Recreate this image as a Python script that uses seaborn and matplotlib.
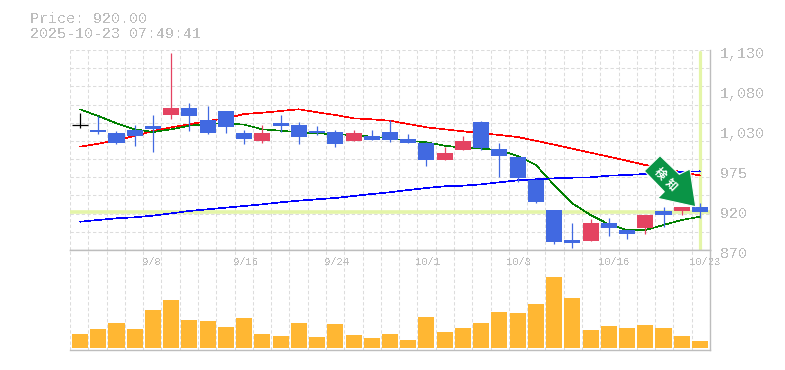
#!/usr/bin/env python3
import numpy as np
import pandas as pd
import matplotlib
matplotlib.use("Agg")
import matplotlib.pyplot as plt
from matplotlib.patches import Polygon
import seaborn as sns

# --- values ---
opens = [1032, 1026.4, 1022, 1026, 1031.2, 1045.5, 1054.6, 1039, 1050.7, 1022, 1011.7, 1035.1,
         1032.5, 1024.7, 1023.4, 1011.7, 1018.2, 1023.4, 1014.3, 1009.1, 987, 1000, 1036.4,
         1001.3, 990.9, 961, 922, 883, 881.7, 905.1, 896, 898.6, 920.7, 920.7, 925.9]
closes = [1032, 1023.4, 1009, 1018.2, 1027.3, 1054.6, 1044.2, 1022, 1030, 1014.3, 1022, 1031.2,
          1016.9, 1021.7, 1007.8, 1022.1, 1013, 1013, 1009.1, 987, 996.1, 1011.7, 1002.6,
          992.2, 963.6, 932.4, 880.4, 879.1, 905.1, 898.6, 890.8, 915.5, 915.5, 925.9, 919.4]
highs = [1048.5, 1044, 1024.7, 1032.5, 1045.5, 1126, 1061, 1057.2, 1050.7, 1026, 1032.5, 1045.5,
         1036.4, 1031.2, 1026, 1026, 1026, 1039, 1020.8, 1010.4, 1003.9, 1018.2, 1037.7,
         1009.1, 990.9, 962.3, 922, 905.1, 910.3, 911.6, 896, 915.5, 925.9, 925.9, 931.1]
lows = [1028.6, 1020.8, 1007.8, 1005.2, 997.4, 1040.3, 1024.7, 1020.8, 1022, 1007.8, 1009, 1023.4,
        1007.8, 1019.5, 1003.9, 1011.7, 1013, 1010.4, 1009.1, 979.2, 987, 1000, 1000,
        964.9, 958.4, 931.1, 877.8, 872.6, 881.7, 888.2, 884.3, 890.8, 899.9, 915.5, 911.6]
ma_short = [1052.9, 1044.2, 1034.7, 1026.9, 1023.4, 1026.9, 1031.6, 1033.8, 1034.7, 1033, 1026.9, 1025.1,
            1023, 1021.7, 1020.4, 1019.5, 1017.3, 1015.2, 1012.1, 1010, 1005.6, 1003, 1001.7,
            1000, 992.2, 980.5, 954.5, 930.7, 915.5, 903.4, 896, 896, 902.5, 909, 913.3]
ma_mid = [1004.3, 1008.2, 1013, 1018.2, 1024.7, 1029.5, 1033.4, 1037.7, 1041.2, 1046.8, 1048.5, 1050.7,
          1052.9, 1049, 1045.5, 1041.2, 1039.9, 1038, 1033.8, 1029.5, 1026.9, 1024.3, 1021.7,
          1019.5, 1016.9, 1012, 1007, 1001.7, 996.5, 991.3, 986, 980.5, 976.6, 971, 967]
ma_long = [906.8, 909, 911.2, 912.5, 914.6, 917.7, 920.7, 922.9, 925, 927.2, 929.4, 932,
           934.1, 935.9, 937.6, 940.2, 942.8, 945, 948, 950.6, 952.8, 953.6, 955.4,
           958, 960.6, 961.9, 963.2, 964, 964.5, 966.6, 967.5, 968.8, 969.7, 971.4, 972.3]
volume = [14, 19, 25, 19, 38, 48, 28, 27, 21, 30, 14, 12, 25, 11, 24, 13, 10, 14,
          8, 31, 16, 20, 25, 36, 35, 44, 71, 50, 18, 22, 20, 23, 20, 12, 7]
date_pos = [4, 9, 14, 19, 24, 29, 34]
date_labels = ["9/8", "9/16", "9/24", "10/1", "10/8", "10/16", "10/23"]
price_pos = [1130, 1078, 1026, 974, 922, 870]
price_labels = ["1,130", "1,080", "1,030", "975", "920", "870"]
current_price = 920.0
title_lines = ["Price: 920.00", "2025-10-23 07:49:41"]

W, H = 785, 370
GRAY = "#bdbdbd"
GRID = "#dcdcdc"
BLUE = "#4169e1"
RED = "#e44361"
HILITE = "#e4f5a8"
MONO = ["Liberation Mono", "DejaVu Sans Mono"]
CJK = ["Noto Sans CJK JP", "DejaVu Sans"]

df = pd.DataFrame({"i": np.arange(len(opens)), "open": opens, "close": closes, "high": highs,
                   "low": lows, "ma5": ma_short, "ma25": ma_mid, "ma75": ma_long, "vol": volume})
df["color"] = [RED if c > o else BLUE for o, c in zip(df["open"], df["close"])]
df.loc[df["open"] == df["close"], "color"] = "black"


def px_axes(fig, x0, y0, x1, y1):
    return fig.add_axes([x0 / W, 1 - y1 / H, (x1 - x0) / W, (y1 - y0) / H])


def style_ax(ax, yticks):
    xlim = (-0.55, 34.55)
    ax.set_xlim(xlim)
    ax.set_xticks(np.linspace(xlim[0], xlim[1], 36))
    ax.set_yticks(yticks)
    ax.set_xticklabels([])
    ax.set_yticklabels([])
    ax.tick_params(length=0)
    ax.set_xlabel("")
    ax.set_ylabel("")
    ax.grid(True, color=GRID, lw=0.75, linestyle=(0, (3.2, 2.2)))
    ax.set_axisbelow(True)
    for side in ["top", "left"]:
        ax.spines[side].set_visible(False)
    for side in ["right", "bottom"]:
        ax.spines[side].set_color(GRAY)
        ax.spines[side].set_linewidth(1.0)


sns.set_style("white")
plt.rcParams["font.family"] = MONO

fig = plt.figure(figsize=(W / 100, H / 100), dpi=100, facecolor="white")
ax = px_axes(fig, 70, 50, 710, 250)
ax_vol = px_axes(fig, 70, 250, 710, 350)

# price panel
ax.axhline(current_price, color=HILITE, lw=2.6, zorder=1.5)
ax.axvline(34, ymax=0.99, color=HILITE, lw=2.3, zorder=1.5)
for col, c in [("ma25", "#ff0000"), ("ma5", "#008000"), ("ma75", "#0000ff")]:
    sns.lineplot(data=df, x="i", y=col, color=c, lw=0.45, ax=ax, legend=False,
                 errorbar=None, antialiased=False, zorder=2)
ax.vlines(df["i"], df["low"], df["high"], colors=df["color"], lw=0.9, zorder=3)
ax.bar(df["i"], (df["close"] - df["open"]).abs(), bottom=df[["open", "close"]].min(axis=1),
       width=0.88, color=df["color"], lw=0, zorder=3)
doji = df[df["open"] == df["close"]]
ax.hlines(doji["close"], doji["i"] - 0.44, doji["i"] + 0.44, colors="black", lw=0.9, zorder=3)
ax.set_ylim(870, 1130)
style_ax(ax, np.linspace(870, 1130, 12))

for p, lab in zip(price_pos, price_labels):
    ax.annotate(lab, xy=(1, p), xycoords=ax.get_yaxis_transform(), xytext=(10, -4),
                textcoords="offset pixels", ha="left", va="center", fontsize=10.8,
                color=GRAY, antialiased=False, annotation_clip=False)

# volume panel
sns.barplot(data=df, x="i", y="vol", native_scale=True, width=0.88, color="#ffb733",
            saturation=1, ax=ax_vol, zorder=2, linewidth=0)
ax_vol.set_ylim(-2, 98)
style_ax(ax_vol, [])
ax_vol.spines["top"].set_visible(True)
ax_vol.spines["top"].set_color(GRAY)
ax_vol.spines["top"].set_linewidth(1.0)

for p, lab in zip(date_pos, date_labels):
    ax_vol.annotate(lab, xy=(p, 1), xycoords=ax_vol.get_xaxis_transform(), xytext=(-11, -12),
                    textcoords="offset pixels", ha="left", va="center", fontsize=7.6,
                    color=GRAY, antialiased=False, annotation_clip=False)

# title
fig.text(30 / W, 1 - 19 / H, title_lines[0], fontsize=10.8, color=GRAY, va="center", antialiased=False)
fig.text(30 / W, 1 - 34 / H, title_lines[1], fontsize=10.8, color=GRAY, va="center", antialiased=False)

# arrow badge
arrow_px = [(660, 155.7), (679.3, 174.3), (690, 169), (695.7, 206.7),
            (657.7, 198.3), (664.3, 191.7), (644.3, 171)]
fig.add_artist(Polygon([(x / W, 1 - y / H) for x, y in arrow_px], closed=True, facecolor="#0a9446",
                       edgecolor="white", lw=0.8, transform=fig.transFigure, zorder=10))
for ch, (tx, ty) in zip("検知", [(660, 173.3), (671, 184.3)]):
    fig.text(tx / W, 1 - ty / H, ch, fontsize=8.2, fontweight="bold", color="white",
             family=CJK, rotation=-45, rotation_mode="anchor", ha="center", va="center", zorder=11)

fig.savefig("out.png", dpi=100)
